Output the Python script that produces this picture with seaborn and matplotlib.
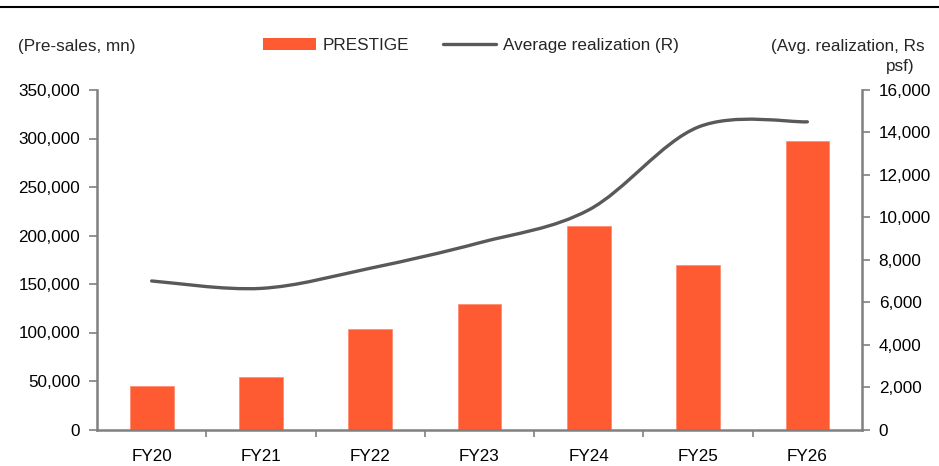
import matplotlib
matplotlib.use("Agg")
import matplotlib.pyplot as plt
from matplotlib.path import Path
from matplotlib.patches import PathPatch, Patch
from matplotlib.lines import Line2D
from matplotlib.ticker import FuncFormatter, FixedLocator
import seaborn as sns
import pandas as pd

# Pre-sales (mn) and average realization (Rs psf) by fiscal year
years = ["FY20", "FY21", "FY22", "FY23", "FY24", "FY25", "FY26"]
presales = [45000, 54500, 104000, 129000, 210000, 170000, 297000]
realization = [7000, 6650, 7600, 8800, 10350, 14250, 14500]

left_ticks = [0, 50000, 100000, 150000, 200000, 250000, 300000, 350000]
right_ticks = [0, 2000, 4000, 6000, 8000, 10000, 12000, 14000, 16000]

BAR = "#FF5B33"
LINE = "#595959"
AXIS = "#808080"
FS = 12.3

sns.set_theme(style="white")
plt.rcParams["font.family"] = ["Liberation Sans", "DejaVu Sans"]

W, H = 939, 466
fig = plt.figure(figsize=(W / 100, H / 100), dpi=100)
x0, x1, ytop, ybot = 97, 862, 90, 429.5
ax = fig.add_axes([x0 / W, 1 - ybot / H, (x1 - x0) / W, (ybot - ytop) / H])

df = pd.DataFrame({"year": years, "presales": presales})
sns.barplot(data=df, x="year", y="presales", color=BAR, width=0.4,
            saturation=1, ax=ax, edgecolor="#FF8E73", linewidth=0.6)
ax.set_xlim(-0.5, len(years) - 0.5)
ax.set_ylim(0, 350000)
ax.set_xlabel("")
ax.set_ylabel("")
ax.yaxis.set_major_locator(FixedLocator(left_ticks))
fmt = FuncFormatter(lambda v, p: f"{v:,.0f}")
ax.yaxis.set_major_formatter(fmt)

# category labels without ticks, boundary ticks between categories
ax.set_xticks(range(len(years)))
ax.set_xticklabels(years)
ax.set_xticks([i + 0.5 for i in range(len(years) - 1)], minor=True)
ax.tick_params(axis="x", which="major", length=0, pad=14, labelsize=FS, colors="black")
ax.tick_params(axis="x", which="minor", length=5, width=1.2, color=AXIS, direction="out", bottom=True)
ax.tick_params(axis="y", length=6, width=1.2, color=AXIS, direction="out", left=True,
               labelsize=FS, labelcolor="black", pad=6)

for s in ["top", "right"]:
    ax.spines[s].set_visible(False)
for s in ["left", "bottom"]:
    ax.spines[s].set_color(AXIS)
    ax.spines[s].set_linewidth(1.8)

# secondary axis: average realization
ax2 = ax.twinx()
ax2.set_ylim(0, 16000)
ax2.yaxis.set_major_locator(FixedLocator(right_ticks))
ax2.yaxis.set_major_formatter(fmt)
ax2.tick_params(axis="y", length=6, width=1.2, color=AXIS, direction="out", right=True,
                labelsize=FS, labelcolor="black", pad=6)
for s in ["top", "left", "bottom"]:
    ax2.spines[s].set_visible(False)
ax2.spines["right"].set_color(AXIS)
ax2.spines["right"].set_linewidth(1.8)
ax2.grid(False)
ax.grid(False)

# smoothed line through the realization points (cubic Bezier segments)
pts = list(zip(range(len(realization)), realization))
verts = [pts[0]]
codes = [Path.MOVETO]
n = len(pts)
for i in range(n - 1):
    p0 = pts[i - 1] if i > 0 else pts[i]
    p1 = pts[i]
    p2 = pts[i + 1]
    p3 = pts[i + 2] if i + 2 < n else pts[i + 1]
    c1 = (p1[0] + (p2[0] - p0[0]) / 6, p1[1] + (p2[1] - p0[1]) / 6)
    c2 = (p2[0] - (p3[0] - p1[0]) / 6, p2[1] - (p3[1] - p1[1]) / 6)
    verts += [c1, c2, p2]
    codes += [Path.CURVE4] * 3
ax2.add_patch(PathPatch(Path(verts, codes), fill=False, edgecolor=LINE,
                        linewidth=2.4, capstyle="round", joinstyle="round"))

# header texts and legend
fig.text(18 / W, 1 - 46.5 / H, "(Pre-sales, mn)", fontsize=FS, va="center", ha="left")
fig.text(925 / W, 1 - 46.5 / H, "(Avg. realization, Rs", fontsize=FS, va="center", ha="right")
fig.text(915 / W, 1 - 67 / H, "psf)", fontsize=FS, va="center", ha="right")

handles = [Patch(facecolor=BAR, edgecolor="none", label="PRESTIGE"),
           Line2D([0], [0], color=LINE, linewidth=2.4, label="Average realization (R)")]
fig.legend(handles=handles, loc="center left", bbox_to_anchor=(263 / W, 1 - 45.5 / H),
           ncol=2, frameon=False, fontsize=FS, borderpad=0, borderaxespad=0,
           handlelength=3.1, handleheight=0.7, handletextpad=0.4, columnspacing=2.0)

# rule under the heading
fig.add_artist(Line2D([0, 1], [1 - 6.7 / H, 1 - 6.7 / H], color="black", linewidth=1.5,
                      transform=fig.transFigure))

fig.savefig("out.png", dpi=100)
